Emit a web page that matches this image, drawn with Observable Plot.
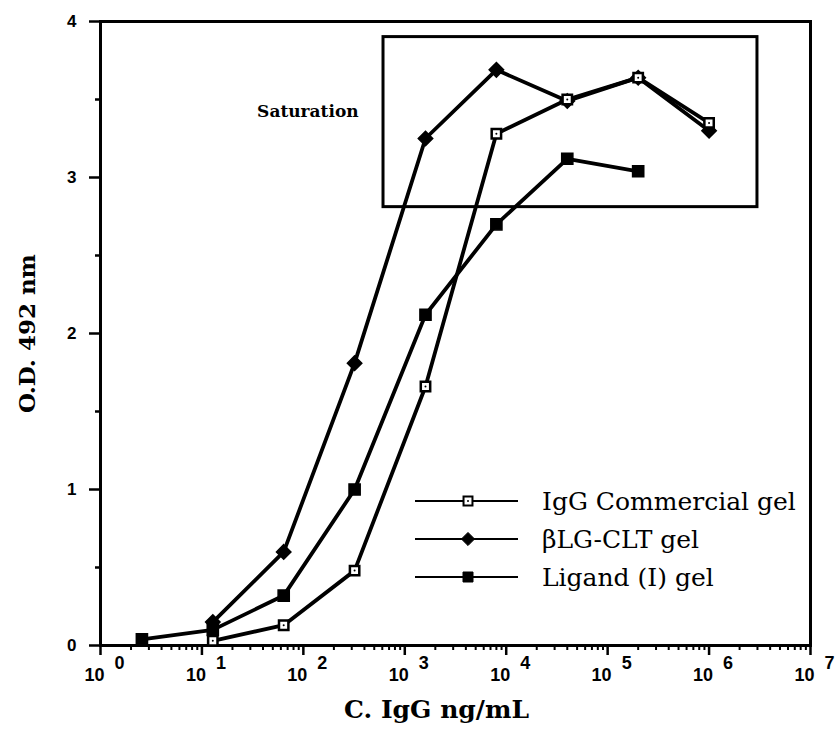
<!DOCTYPE html>
<html><head><meta charset="utf-8">
<script src="https://cdn.jsdelivr.net/npm/d3@7"></script>
<script src="https://cdn.jsdelivr.net/npm/@observablehq/plot@0.6"></script>
<style>
body{margin:0;background:#fff}
g[aria-label="y-axis tick label"] text{font-family:"Liberation Sans",Arial,sans-serif;font-weight:bold;font-size:17px}
</style>
</head><body><div id="chart"></div>
<script>
// Data
const concentrations = [2.56, 12.8, 64, 320, 1600, 8000, 40000, 200000, 1000000];
const seriesNames = ["IgG Commercial gel", "βLG-CLT gel", "Ligand (I) gel"];
const commercialOD = [null, 0.03, 0.13, 0.48, 1.66, 3.28, 3.50, 3.64, 3.35];
const blgOD        = [null, 0.15, 0.60, 1.81, 3.25, 3.69, 3.49, 3.64, 3.30];
const ligandOD     = [0.04, 0.10, 0.32, 1.00, 2.12, 2.70, 3.12, 3.04, null];
const yTicks = [0, 1, 2, 3, 4];
const yMinorTicks = [0.5, 1.5, 2.5, 3.5];
const decadeExponents = [0, 1, 2, 3, 4, 5, 6, 7];
const xLabel = "C. IgG ng/mL";
const yLabel = "O.D. 492 nm";
const saturationLabel = "Saturation";
const saturationX = [617, 3.0e6];
const saturationY = [2.81, 3.90];
const saturationLabelPos = [35, 3.42];

const seriesValues = [commercialOD, blgOD, ligandOD];
const rows = [];
seriesNames.forEach((name, i) => {
  concentrations.forEach((c, j) => {
    const v = seriesValues[i][j];
    if (v != null) rows.push({conc: c, od: v, series: name});
  });
});
const bySeries = name => rows.filter(r => r.series === name);
const majorTicks = decadeExponents.map(e => 10 ** e);
const minorTicks = [];
decadeExponents.slice(0, -1).forEach(e => { for (let k = 2; k <= 9; k++) minorTicks.push(k * 10 ** e); });

const serif = "'DejaVu Serif', serif";
const sans = "'Liberation Sans', Arial, sans-serif";

const plot = Plot.plot({
  width: 838,
  height: 736,
  marginLeft: 100,
  marginRight: 28,
  marginTop: 21,
  marginBottom: 91,
  x: {type: "log", domain: [1, 1e7]},
  y: {domain: [0, 4]},
  marks: [
    Plot.axisX({ticks: majorTicks, tickSize: 10, strokeWidth: 2.5, tickFormat: () => "", label: null}),
    Plot.axisX({ticks: minorTicks, tickSize: 5, strokeWidth: 2, tickFormat: () => "", label: null}),
    Plot.axisY({ticks: yTicks, tickSize: 11, tickPadding: 13, strokeWidth: 2.5, tickFormat: d => String(d), label: null}),
    Plot.axisY({ticks: yMinorTicks, tickSize: 5, strokeWidth: 2.5, tickFormat: () => "", label: null}),
    Plot.text(decadeExponents, {x: d => 10 ** d, y: () => 0, text: () => "10", dy: 30, dx: 4, textAnchor: "end", fontSize: 18, fontWeight: "bold", fontFamily: sans}),
    Plot.text(decadeExponents, {x: d => 10 ** d, y: () => 0, text: d => String(d), dy: 18, dx: 14, textAnchor: "start", fontSize: 18, fontWeight: "bold", fontFamily: sans}),
    Plot.frame({stroke: "black", strokeWidth: 3}),
    Plot.rect([0], {x1: () => saturationX[0], x2: () => saturationX[1], y1: () => saturationY[0], y2: () => saturationY[1], fill: "none", stroke: "black", strokeWidth: 3}),
    Plot.text([saturationLabel], {x: () => saturationLabelPos[0], y: () => saturationLabelPos[1], text: d => d, textAnchor: "start", fontSize: 17, fontWeight: 600, fontFamily: serif}),
    Plot.line(rows, {x: "conc", y: "od", z: "series", stroke: "black", strokeWidth: 3.8}),
    Plot.dot(bySeries(seriesNames[2]), {x: "conc", y: "od", symbol: "square", r: 6.3, fill: "black", stroke: "black"}),
    Plot.dot(bySeries(seriesNames[1]), {x: "conc", y: "od", symbol: "diamond2", r: 6.5, fill: "black", stroke: "black"}),
    Plot.dot(bySeries(seriesNames[0]), {x: "conc", y: "od", symbol: "square", r: 5.3, fill: "white", stroke: "black", strokeWidth: 2.5}),
    Plot.dot(bySeries(seriesNames[0]), {x: "conc", y: "od", r: 1, fill: "black"}),
    Plot.text([yLabel], {frameAnchor: "left", dx: -73, rotate: -90, textAnchor: "middle", text: d => d, fontSize: 23, fontWeight: "bold", fontFamily: serif}),
    Plot.text([xLabel], {frameAnchor: "bottom", dy: 72, dx: -19, textAnchor: "middle", text: d => d, fontSize: 25, fontWeight: "bold", fontFamily: serif, letterSpacing: "1.5px"})
  ]
});

// Legend drawn inside the plot area
const svg = d3.select(plot);
const legend = svg.append("g").attr("aria-label", "legend").attr("text-anchor", "start");
const symbols = [
  {type: d3.symbolSquare, size: 80, fill: "white", sw: 2},
  {type: d3.symbolDiamond2, size: 110, fill: "black", sw: 1},
  {type: d3.symbolSquare, size: 100, fill: "black", sw: 1}
];
seriesNames.forEach((name, i) => {
  const g = legend.append("g").attr("transform", `translate(415,${501 + i * 38})`);
  g.append("line").attr("x1", 0).attr("x2", 103).attr("stroke", "black").attr("stroke-width", 2);
  g.append("path").attr("transform", "translate(53,0)")
    .attr("d", d3.symbol(symbols[i].type, symbols[i].size)())
    .attr("fill", symbols[i].fill).attr("stroke", "black").attr("stroke-width", symbols[i].sw);
  if (i === 0) g.append("circle").attr("cx", 53).attr("r", 1).attr("fill", "black");
  g.append("text").attr("x", 127).attr("dy", "0.35em").attr("text-anchor", "start").text(name)
    .attr("font-family", serif).attr("font-size", 25).attr("fill", "black");
});

document.getElementById("chart").appendChild(plot);
</script>
</body></html>
